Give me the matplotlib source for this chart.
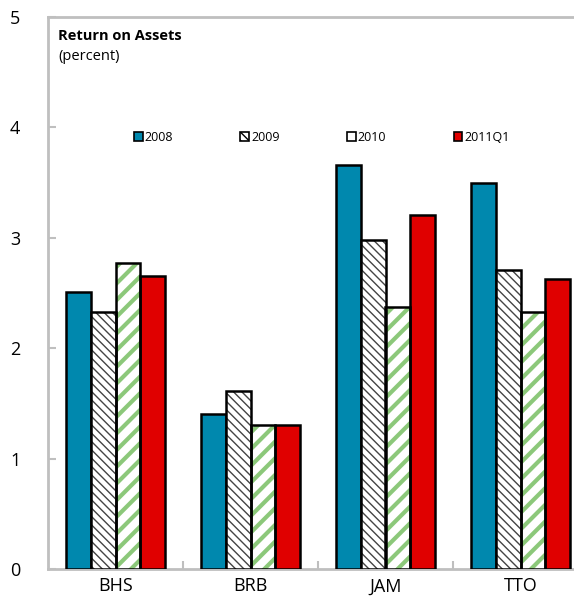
import numpy as np
import matplotlib.pyplot as plt
from matplotlib.patches import Patch

# return on assets by country and period
countries = ['BHS', 'BRB', 'JAM', 'TTO']
periods = ['2008', '2009', '2010', '2011Q1']
roa_2008 = [2.51, 1.40, 3.66, 3.50]
roa_2009 = [2.33, 1.61, 2.98, 2.71]
roa_2010 = [2.77, 1.30, 2.37, 2.33]
roa_2011q1 = [2.65, 1.30, 3.21, 2.63]

plt.rcParams['font.family'] = ['Open Sans', 'DejaVu Sans']

fig = plt.figure(figsize=(5.74, 6.05), dpi=100)
# axes run past the right edge of the figure
ax = fig.add_axes([48 / 574, 36 / 605, 540 / 574, 552 / 605])

x = np.arange(len(countries))
w = 0.185
offs = np.array([-1.5, -0.5, 0.5, 1.5]) * w
grey = '#bfbfbf'

# 2008: solid blue
ax.bar(x + offs[0], roa_2008, w, color='#0088ae', edgecolor='black', linewidth=1.8, zorder=3)

# 2009: black diagonal hatch
plt.rcParams['hatch.linewidth'] = 1.0
ax.bar(x + offs[1], roa_2009, w, color='white', edgecolor='#444444', hatch='\\\\\\\\', linewidth=0, zorder=3)
ax.bar(x + offs[1], roa_2009, w, fill=False, edgecolor='black', linewidth=1.8, zorder=4)

# 2010: green diagonal hatch
plt.rcParams['hatch.linewidth'] = 3.0
ax.bar(x + offs[2], roa_2010, w, color='white', edgecolor='#8cc87a', hatch='//', linewidth=0, zorder=3)
ax.bar(x + offs[2], roa_2010, w, fill=False, edgecolor='black', linewidth=1.8, zorder=4)

# 2011Q1: solid red
ax.bar(x + offs[3], roa_2011q1, w, color='#e00000', edgecolor='black', linewidth=1.8, zorder=3)

ax.set_xlim(-0.5, len(countries) - 0.5)
ax.set_ylim(0, 5)
ax.set_yticks(range(6))
ax.set_xticks(x)
ax.set_xticklabels(countries)
ax.set_xticks(x[:-1] + 0.5, minor=True)
ax.tick_params(axis='x', which='major', length=0, labelsize=13, pad=6)
ax.tick_params(axis='x', which='minor', direction='in', length=6, color=grey, width=1.5)
ax.tick_params(axis='y', direction='in', length=6, color=grey, width=1.5, labelsize=13, pad=20)

for side in ['left', 'top', 'bottom']:
    ax.spines[side].set_color(grey)
    ax.spines[side].set_linewidth(2)
ax.spines['right'].set_visible(False)

ax.text(10 / 540, 0.966, 'Return on Assets', transform=ax.transAxes, fontsize=10.5,
        fontweight='bold', ha='left', va='center')
ax.text(10 / 540, 0.928, '(percent)', transform=ax.transAxes, fontsize=10.5,
        ha='left', va='center')

plt.rcParams['hatch.linewidth'] = 1.0
handles = [
    Patch(facecolor='#0088ae', edgecolor='black', linewidth=1.2),
    Patch(facecolor='white', edgecolor='black', hatch='\\\\\\\\', linewidth=1.2),
    Patch(facecolor='white', edgecolor='black', linewidth=1.2),
    Patch(facecolor='#e00000', edgecolor='black', linewidth=1.2),
]
ax.legend(handles, periods, ncol=4, frameon=False, fontsize=9,
          loc='center', bbox_to_anchor=(0.507, 0.782), handlelength=0.7,
          handleheight=0.7, handletextpad=0.15, columnspacing=5.4)

fig.savefig('out.png', dpi=100)
